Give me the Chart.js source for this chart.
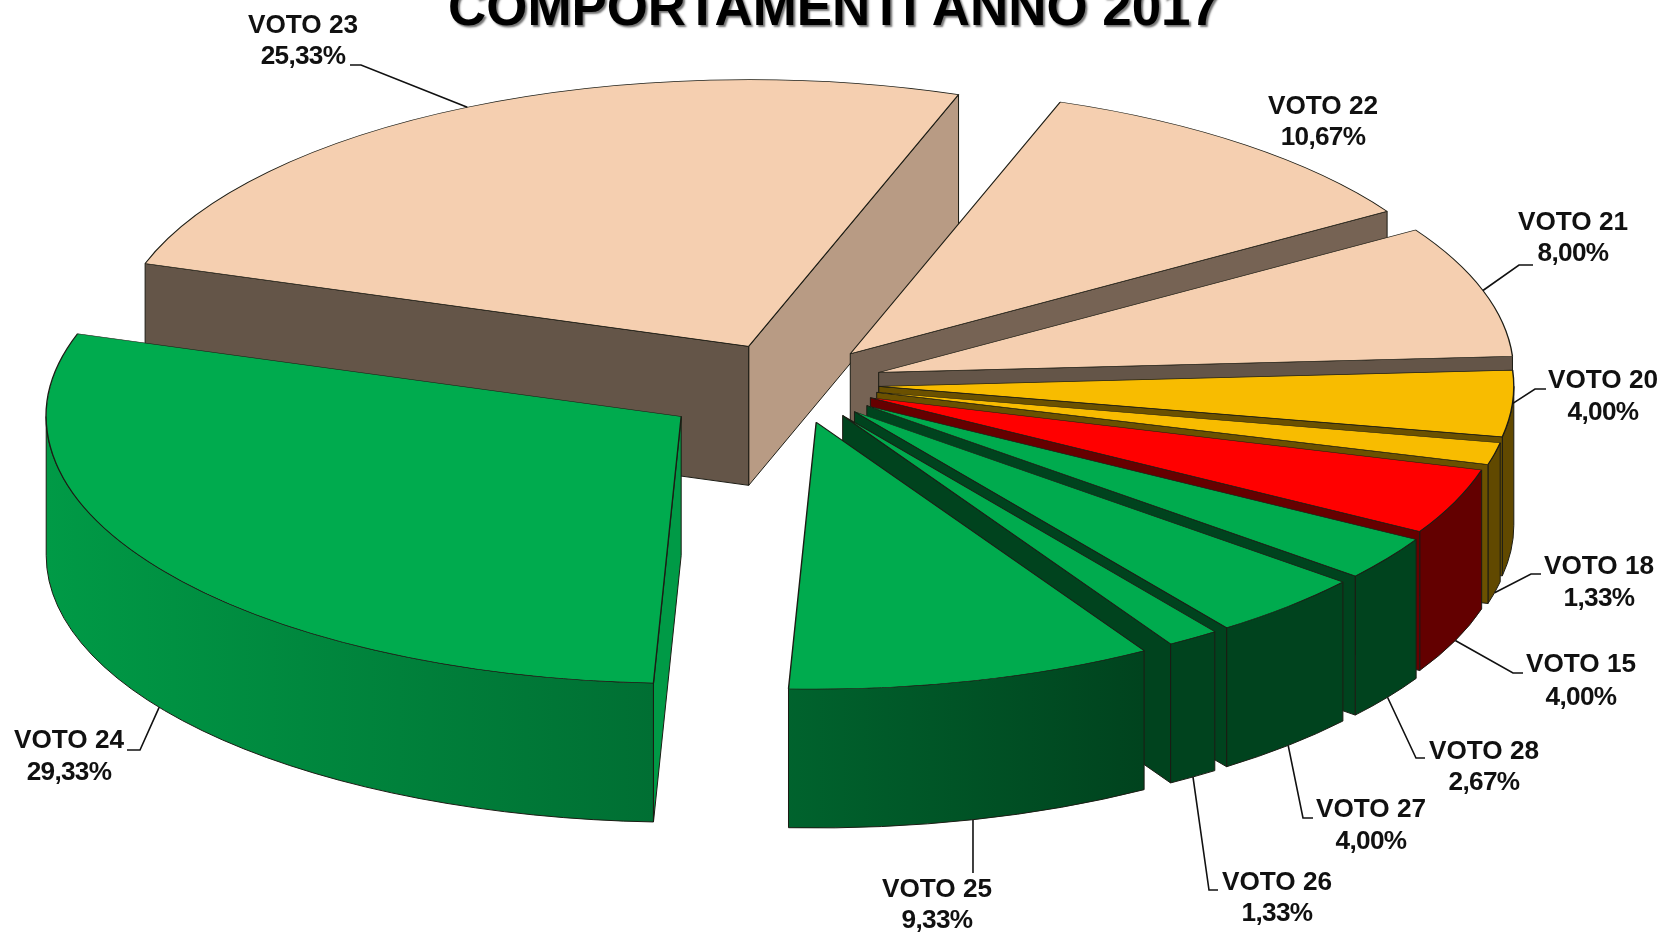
<!DOCTYPE html>
<html>
<head>
<meta charset="utf-8">
<title>Comportamenti anno 2017</title>
<script src="https://cdn.jsdelivr.net/npm/chart.js@4"></script>
<style>
  html, body { margin: 0; padding: 0; background: #fff; overflow: hidden; }
  canvas { display: block; }
</style>
</head>
<body>
<canvas id="torta" width="1661" height="932"></canvas>
<script>
const titolo = 'COMPORTAMENTI ANNO 2017';
const categorie = ['VOTO 23', 'VOTO 22', 'VOTO 21', 'VOTO 20', 'VOTO 18', 'VOTO 15', 'VOTO 28', 'VOTO 27', 'VOTO 26', 'VOTO 25', 'VOTO 24'];
const valori = [25.33, 10.67, 8.00, 4.00, 1.33, 4.00, 2.67, 4.00, 1.33, 9.33, 29.33];

// slice look
const colori = ['#F5CFB0', '#F5CFB0', '#F5CFB0', '#F8BC00', '#F8BC00', '#FF0000', '#00AB4E', '#00AB4E', '#00AB4E', '#00AB4E', '#00AB4E'];
const esplosione = [100, 92, 90, 86, 86, 84, 90, 90, 90, 94, 136];
const ombraInizio = [0.41, 0.4, 0.4, 0.42, 0.42, 0.4, 0.39, 0.39, 0.39, 0.39, 0.9];
const ombraFine = [0.75, 0.48, 0.41, 0.43, 0.43, 0.4, 0.39, 0.39, 0.39, 0.39, 0.39];

// label centre x, first line y, second line y, then the elbow and end of the leader
const etichette = [
  [303, 26, 57, 361, 65, 350, 65],
  [1323, 107, 138],
  [1573, 223, 254, 1519, 265, 1533, 265],
  [1603, 381, 413, 1535, 389, 1546, 389],
  [1599, 567, 599, 1531, 574, 1541, 574],
  [1581, 665, 698, 1513, 673, 1523, 673],
  [1484, 752, 783, 1416, 758, 1425, 758],
  [1371, 810, 842, 1303, 818, 1313, 818],
  [1277, 883, 914, 1209, 890, 1218, 890],
  [937, 890, 921, 973, 873, 973, 873],
  [69, 741, 773, 140, 750, 127, 750]
];

const schiaccia = 0.42;   // tilt of the pie
const spessore = 139;     // wall height
const raggio = 635;

function scurisci(hex, f) {
  const n = parseInt(hex.slice(1), 16);
  const r = Math.round((n >> 16 & 255) * f);
  const g = Math.round((n >> 8 & 255) * f);
  const b = Math.round((n & 255) * f);
  return `rgb(${r},${g},${b})`;
}

function muroRadiale(ctx, px, py, ang, fill) {
  const ex = px + Math.cos(ang) * raggio;
  const ey = py + Math.sin(ang) * raggio * schiaccia;
  ctx.beginPath();
  ctx.moveTo(px, py);
  ctx.lineTo(ex, ey);
  ctx.lineTo(ex, ey + spessore);
  ctx.lineTo(px, py + spessore);
  ctx.closePath();
  ctx.fillStyle = fill;
  ctx.fill();
  ctx.stroke();
}

function muroCurvo(ctx, px, py, a0, a1, base) {
  const grad = ctx.createLinearGradient(47, 0, 1511, 0);
  grad.addColorStop(0, scurisci(base, 0.9));
  grad.addColorStop(0.414, scurisci(base, 0.65));
  grad.addColorStop(0.748, scurisci(base, 0.39));
  grad.addColorStop(1, scurisci(base, 0.39));
  for (let n = -1; n <= 2; n++) {
    const da = Math.max(a0, n * 2 * Math.PI);
    const a = Math.min(a1, n * 2 * Math.PI + Math.PI);
    if (a <= da) continue;
    ctx.beginPath();
    ctx.ellipse(px, py, raggio, raggio * schiaccia, 0, da, a);
    ctx.ellipse(px, py + spessore, raggio, raggio * schiaccia, 0, a, da, true);
    ctx.closePath();
    ctx.fillStyle = grad;
    ctx.fill();
    ctx.stroke();
  }
}

const torta3d = {
  id: 'torta3d',
  beforeDatasetDraw(chart, args) {
    const ctx = chart.ctx;
    const archi = chart.getDatasetMeta(args.index).data;
    ctx.lineWidth = 1;
    ctx.strokeStyle = '#1c1c14';
    archi.forEach((arco, i) => {
      const a0 = arco.startAngle;
      const a1 = arco.endAngle;
      const mid = (a0 + a1) / 2;
      const px = arco.x + Math.cos(mid) * esplosione[i];
      const py = arco.y + Math.sin(mid) * esplosione[i] * schiaccia;
      muroCurvo(ctx, px, py, a0, a1, colori[i]);
      if (Math.cos(a1) > 0) muroRadiale(ctx, px, py, a1, scurisci(colori[i], ombraFine[i]));
      if (Math.cos(a0) < 0) muroRadiale(ctx, px, py, a0, scurisci(colori[i], ombraInizio[i]));
      ctx.save();
      ctx.translate(px, py);
      ctx.scale(1, schiaccia);
      ctx.translate(-arco.x, -arco.y);
      arco.draw(ctx);
      ctx.restore();
    });
    return false;
  },
  afterDraw(chart) {
    const ctx = chart.ctx;
    const archi = chart.getDatasetMeta(0).data;
    ctx.save();
    // leader lines
    ctx.strokeStyle = '#111';
    ctx.lineWidth = 1.6;
    archi.forEach((arco, i) => {
      const e = etichette[i];
      if (e.length < 7) return;
      const mid = (arco.startAngle + arco.endAngle) / 2;
      const px = arco.x + Math.cos(mid) * (esplosione[i] + raggio);
      let py = arco.y + Math.sin(mid) * (esplosione[i] + raggio) * schiaccia;
      if (Math.sin(mid) > 0.1) py += spessore;
      ctx.beginPath();
      ctx.moveTo(px, py);
      ctx.lineTo(e[3], e[4]);
      ctx.lineTo(e[5], e[6]);
      ctx.stroke();
    });
    // labels
    ctx.fillStyle = '#111';
    ctx.font = 'bold 26.2px "Liberation Sans"';
    ctx.textAlign = 'center';
    ctx.textBaseline = 'middle';
    categorie.forEach((nome, i) => {
      const e = etichette[i];
      ctx.letterSpacing = '0px';
      ctx.fillText(nome, e[0], e[1]);
      ctx.letterSpacing = '-0.7px';
      ctx.fillText(valori[i].toFixed(2).replace('.', ',') + '%', e[0], e[2]);
    });
    ctx.letterSpacing = '0px';
    // title, cut by the top of the page as in the original
    ctx.font = 'bold 52.9px "Liberation Sans"';
    ctx.textBaseline = 'alphabetic';
    ctx.fillStyle = '#000';
    ctx.shadowColor = 'rgba(0,0,0,0.55)';
    ctx.shadowOffsetX = 2;
    ctx.shadowOffsetY = 2;
    ctx.shadowBlur = 2;
    ctx.fillText(titolo, 834, 25);
    ctx.restore();
  }
};

new Chart(document.getElementById('torta'), {
  type: 'pie',
  data: {
    labels: categorie,
    datasets: [{
      data: valori,
      backgroundColor: colori,
      borderColor: '#1c1c14',
      borderWidth: 1.4,
      radius: raggio
    }]
  },
  options: {
    responsive: false,
    animation: false,
    rotation: 288.1,
    layout: { padding: { left: 0, right: 75, top: 0, bottom: 164 } },
    plugins: { legend: { display: false }, tooltip: { enabled: false } }
  },
  plugins: [torta3d]
});
</script>
</body>
</html>
